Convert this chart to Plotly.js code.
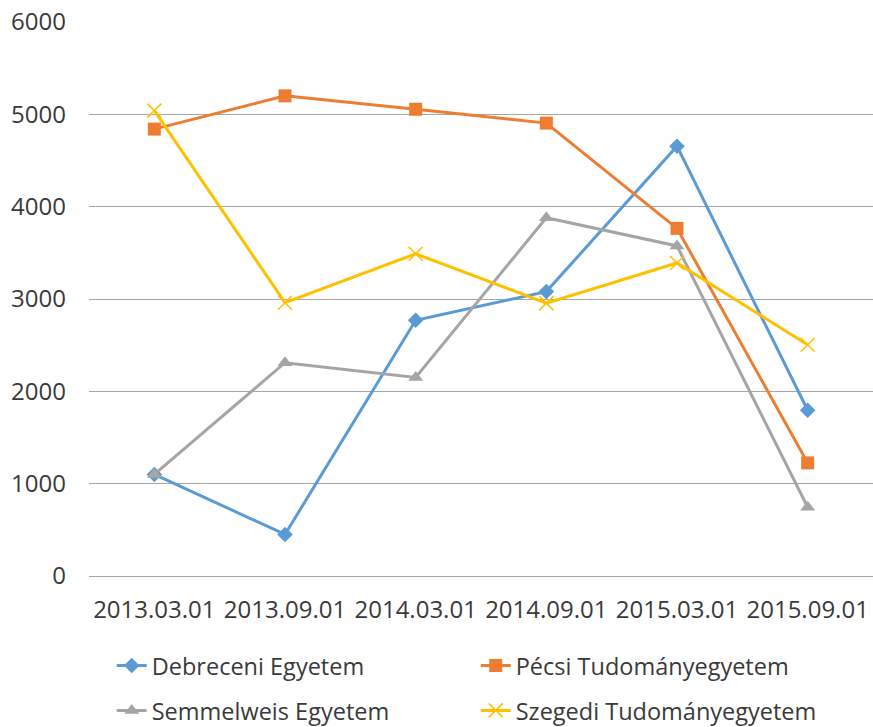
<!DOCTYPE html>
<html>
<head>
<meta charset="utf-8">
<script src="https://cdn.plot.ly/plotly-3.0.1.min.js"></script>
<style>html,body{margin:0;padding:0;background:#fff;}#chart{width:873px;height:727px;}</style>
</head>
<body>
<div id="chart"></div>
<script>
var categories = ["2013.03.01", "2013.09.01", "2014.03.01", "2014.09.01", "2015.03.01", "2015.09.01"];
var debreceni = [1100, 450, 2770, 3080, 4655, 1795];
var pecsi = [4840, 5200, 5055, 4905, 3765, 1225];
var semmelweis = [1100, 2310, 2150, 3880, 3575, 745];
var szegedi = [5040, 2960, 3490, 2955, 3390, 2505];
var seriesNames = ["Debreceni Egyetem", "Pécsi Tudományegyetem", "Semmelweis Egyetem", "Szegedi Tudományegyetem"];
var yTicks = [0, 1000, 2000, 3000, 4000, 5000, 6000];

var FONT = "Open Sans, Noto Sans, sans-serif";
var TXT = "#3a3a3a";

function tr(name, y, color, symbol, size, legend, open) {
  var m = {symbol: symbol, size: size, color: color};
  if (open) m.line = {color: color, width: 1.5};
  return {
    type: "scatter", mode: "lines+markers", name: name,
    x: categories, y: y,
    line: {color: color, width: 3},
    marker: m,
    legend: legend,
    hoverinfo: "skip"
  };
}

var data = [
  tr(seriesNames[0], debreceni, "#5B9BD5", "diamond", 12, "legend"),
  tr(seriesNames[1], pecsi, "#ED7D31", "square", 13, "legend"),
  tr(seriesNames[2], semmelweis, "#A5A5A5", "triangle-up", 13, "legend2"),
  tr(seriesNames[3], szegedi, "#FFC000", "x-thin-open", 14, "legend2", true)
];

var legBase = {
  orientation: "h", xanchor: "left", yanchor: "middle", x: 0.029,
  font: {family: FONT, size: 23.5, color: TXT},
  entrywidth: 319, entrywidthmode: "pixels",
  bgcolor: "rgba(0,0,0,0)", borderwidth: 0, itemclick: false
};

var layout = {
  width: 873, height: 727,
  margin: {l: 89, r: 0, t: 22, b: 150.5, autoexpand: false},
  paper_bgcolor: "#fff", plot_bgcolor: "#fff",
  font: {family: FONT, size: 24, color: TXT},
  showlegend: true,
  legend: Object.assign({}, legBase, {y: -0.162}),
  legend2: Object.assign({}, legBase, {y: -0.243}),
  xaxis: {
    type: "category", range: [-0.5, 5.5],
    showgrid: false, zeroline: false, showline: false,
    ticks: "", ticklabelstandoff: 17,
    tickfont: {family: FONT, size: 24, color: TXT},
    fixedrange: true
  },
  yaxis: {
    range: [0, 6000], tickvals: yTicks, ticktext: yTicks.map(String),
    showgrid: true, gridcolor: "#A6A6A6", gridwidth: 1,
    zeroline: true, zerolinecolor: "#A6A6A6", zerolinewidth: 1,
    showline: false, ticks: "", ticklabelstandoff: 22,
    tickfont: {family: FONT, size: 24, color: TXT},
    fixedrange: true
  }
};

Plotly.newPlot("chart", data, layout, {displayModeBar: false, staticPlot: true});
</script>
</body>
</html>
